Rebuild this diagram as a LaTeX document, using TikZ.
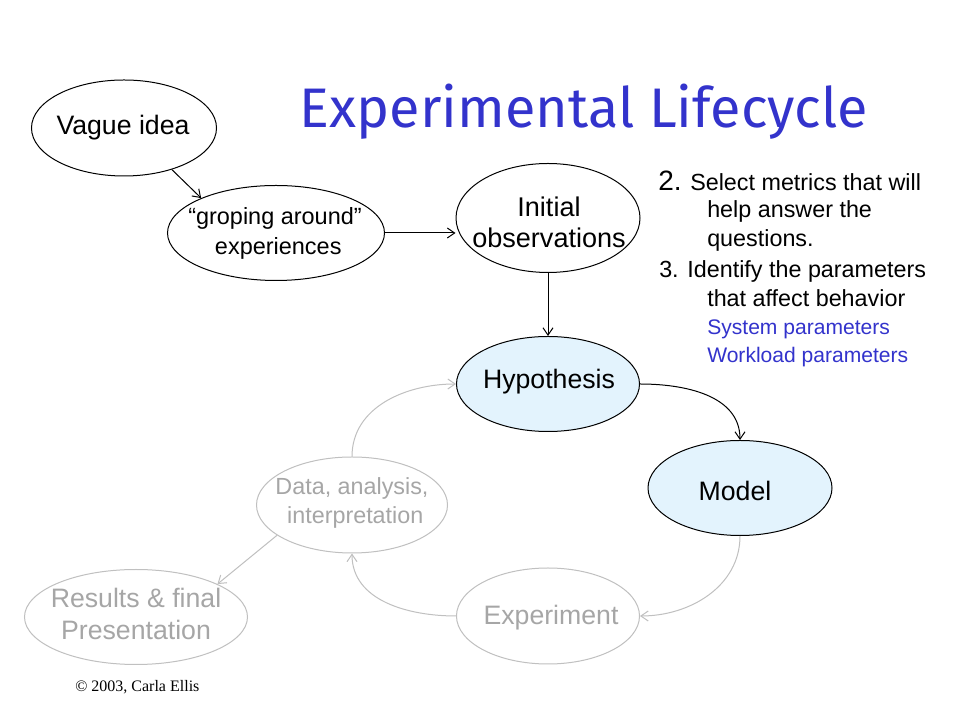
\documentclass[tikz,border=0pt]{standalone}
\usepackage{graphicx}
\usepackage{fontspec}
\setmainfont{Liberation Sans}
\newfontfamily\serifx{Liberation Serif}
\newfontfamily\titlefont{Fira Sans}
\usetikzlibrary{shapes.geometric,arrows.meta}
\definecolor{ttlblue}{RGB}{51,51,204}
\definecolor{hypfill}{RGB}{227,243,253}
\definecolor{fadeline}{RGB}{192,192,192}
\definecolor{fadetext}{RGB}{166,166,166}
\begin{document}
\begin{tikzpicture}[x=0.75pt,y=0.75pt,
  ell/.style={ellipse,draw=black,line width=0.75pt,inner sep=0pt},
  fadeell/.style={ellipse,draw=fadeline,line width=0.75pt,inner sep=0pt},
  lbl/.style={align=center,inner sep=0pt,text=black},
  fadelbl/.style={align=center,inner sep=0pt,text=fadetext},
  conn/.style={line width=0.75pt,-{Straight Barb[length=5.5pt,width=7.5pt]}},
  rt/.style={anchor=base west,inner sep=0pt,font=\fontsize{17.5}{21}\selectfont},
  rtblue/.style={rt,text=ttlblue,font=\fontsize{15.8}{19}\selectfont}]
\fill[white] (0,0) rectangle (960,720);
\useasboundingbox (0,0) rectangle (960,720);

% title
\node[anchor=base,inner sep=0pt,text=ttlblue] (title) at (584,592)
  {\resizebox{426pt}{!}{\titlefont Experimental Lifecycle}};

% ellipses
\node[ell,minimum width=138.75pt,minimum height=72pt] (vague) at (124,592) {};
\node[lbl,font=\fontsize{20}{24}\selectfont] (vagueT) at (123,592) {Vague idea};

\node[ell,minimum width=162.75pt,minimum height=71.25pt] (groping) at (276,487) {};
\node[lbl,font=\fontsize{17.6}{22.5}\selectfont] (gropingT) at (275,487) {“groping around”\\\hspace*{0.278em}experiences};

\node[ell,minimum width=138pt,minimum height=81.75pt] (initial) at (548,502) {};
\node[lbl,font=\fontsize{20.3}{23}\selectfont] (initialT) at (549,497.5) {Initial\\observations};

\node[ell,fill=hypfill,minimum width=137.25pt,minimum height=71.25pt] (hyp) at (548,336) {};
\node[lbl,font=\fontsize{20}{24}\selectfont] (hypT) at (549,338) {Hypothesis};

\node[ell,fill=hypfill,minimum width=138pt,minimum height=71.25pt] (model) at (740,232) {};
\node[lbl,font=\fontsize{20}{24}\selectfont] (modelT) at (735,229) {Model};

\node[fadeell,minimum width=137.25pt,minimum height=72pt] (experiment) at (548,104) {};
\node[fadelbl,font=\fontsize{20}{24}\selectfont] (experimentT) at (551,102) {Experiment};

\node[fadeell,minimum width=143.25pt,minimum height=72pt] (data) at (352,215) {};
\node[fadelbl,font=\fontsize{17.5}{21.75}\selectfont] (dataT) at (352,217.5) {Data, analysis,\\\hspace*{0.278em}interpretation};

\node[fadeell,minimum width=167.25pt,minimum height=71.25pt] (results) at (136,103) {};
\node[fadelbl,font=\fontsize{20}{24}\selectfont] (resultsT) at (136,106) {Results \& final\\Presentation};

% connectors
\draw[conn] (vague.-41) -- (groping.155);
\draw[conn] (groping.east) -- (groping.east -| initial.west);
\draw[conn] (initial.south) -- (hyp.north);
\draw[conn] (hyp.east) to[out=0,in=90] (model.north);
\draw[conn,fadeline] (model.south) to[out=-90,in=0] (experiment.east);
\draw[conn,fadeline] (experiment.west) to[out=180,in=-90] (data.south);
\draw[conn,fadeline] (data.north) to[out=90,in=180] (hyp.west);
\draw[conn,fadeline] (data.202) -- (results.22);

% right text
\node[rt] (m1) at (658,529) {{\fontsize{21}{24}\selectfont 2.} Select metrics that will};
\node[rt] (m2) at (707,502) {help answer the};
\node[rt] (m3) at (707,473) {questions.};
\node[rt] (m4) at (659,442) {3. Identify the parameters};
\node[rt] (m5) at (707,413) {that affect behavior};
\node[rtblue] (m6) at (707,385) {System parameters};
\node[rtblue] (m7) at (707,357) {Workload parameters};

% copyright
\node[anchor=base west,inner sep=0pt,font=\serifx\fontsize{12}{14}\selectfont] (copy) at (75,28) {© 2003, Carla Ellis};
\end{tikzpicture}
\end{document}
